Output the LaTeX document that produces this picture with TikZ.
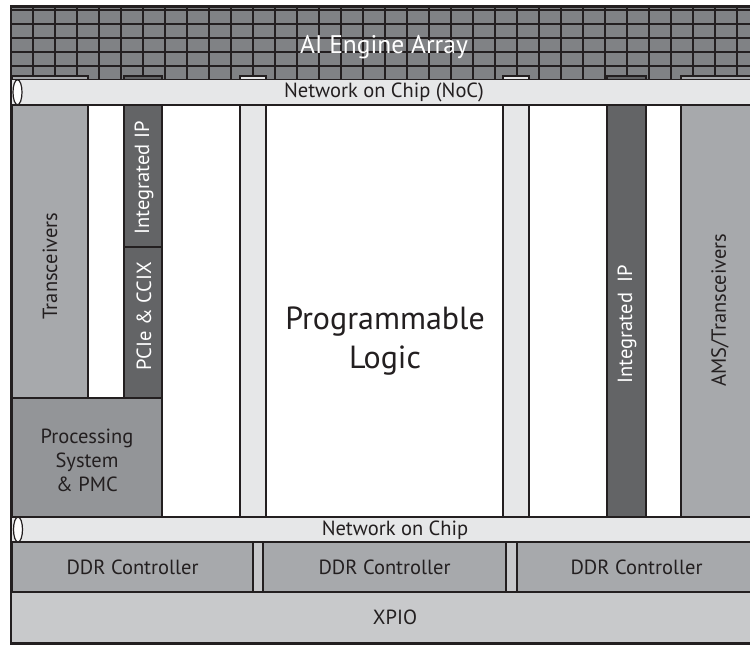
\documentclass[tikz,border=0pt]{standalone}
\usepackage{fontspec}
\setmainfont{PT Sans}
\definecolor{ln}{HTML}{231F20}
\definecolor{aie}{HTML}{808285}
\definecolor{noc}{HTML}{E6E7E8}
\definecolor{gt}{HTML}{A7A9AC}
\definecolor{dk}{HTML}{636466}
\definecolor{psc}{HTML}{939598}
\definecolor{xpio}{HTML}{C8C9CB}
\begin{document}
\begin{tikzpicture}[x=1pt,y=-1pt,
  blk/.style={draw=ln,line width=1.2pt},
  gridl/.style={draw=ln,line width=1.6pt},
  lbl/.style={text=ln,font=\fontsize{20.5}{24}\selectfont,inner sep=0pt},
  wlbl/.style={text=white,font=\fontsize{20.5}{24}\selectfont,inner sep=0pt},
  vlbl/.style={lbl,rotate=90},
  wvlbl/.style={wlbl,rotate=90}]
\useasboundingbox (0,0) rectangle (750,645);
\fill[white] (0,0) rectangle (750,645);
% AI engine array
\fill[aie] (11,7) rectangle (770,80);
\foreach \x in {33,55,...,759} \draw[gridl] (\x,7) -- (\x,80);
\foreach \y in {10,24,38,52,66} \draw[gridl] (11,\y) -- (770,\y);
% columns (tops visible above NoC)
\draw[blk,fill=gt] (12,76) rectangle (88,398);
\draw[blk,fill=white] (88,105) rectangle (124,398);
\draw[blk,fill=dk] (124,76) rectangle (162,247);
\draw[blk,fill=dk] (124,247) rectangle (162,398);
\draw[blk,fill=psc] (12,398) rectangle (162,517);
\draw[blk,fill=white] (162,105) rectangle (240,517);
\draw[blk,fill=noc] (240,76) rectangle (266,517);
\draw[blk,fill=white] (266,105) rectangle (503,517);
\draw[blk,fill=noc] (503,76) rectangle (529,517);
\draw[blk,fill=white] (529,105) rectangle (607,517);
\draw[blk,fill=dk] (607,76) rectangle (646,517);
\draw[blk,fill=white] (646,105) rectangle (681,517);
\draw[blk,fill=gt] (681,76) rectangle (770,517);
% top NoC
\draw[blk,fill=noc] (11,79.5) rectangle (770,105);
\draw[blk,fill=white] (17.5,92.25) ellipse [x radius=4.5,y radius=12.5];
% bottom NoC
\draw[blk,fill=noc] (11,517) rectangle (770,542);
\draw[blk,fill=white] (18,529.5) ellipse [x radius=4.5,y radius=12.5];
% XPIO and DDR
\draw[blk,fill=xpio] (11,542) rectangle (770,643);
\draw[blk,fill=gt] (12,542) rectangle (253,592);
\draw[blk,fill=gt] (263,542) rectangle (506,592);
\draw[blk,fill=gt] (517,542) rectangle (770,592);
\draw[blk] (11,592) -- (770,592);
% outer frame
\draw[draw=ln,line width=2.6pt] (11,6.5) rectangle (770,643.5);
% labels
\node[wlbl,font=\fontsize{25.5}{30}\selectfont] (aielbl) at (384,47) {AI Engine Array};
\node[lbl] (noct) at (384,92.5) {Network on Chip (NoC)};
\node[vlbl] (gtl) at (50,266) {Transceivers};
\node[wvlbl] (iipl) at (144,178) {Integrated IP};
\node[wvlbl] (pcie) at (144,316) {PCIe \& CCIX};
\node[lbl,align=center,font=\fontsize{20.5}{24}\selectfont] (psl) at (87,460) {Processing\\System\\\& PMC};
\node[lbl,align=center,font=\fontsize{32}{39}\selectfont] (pl) at (385,341) {Programmable\\Logic};
\node[wvlbl] (iipr) at (627,324) {Integrated\ \ IP};
\node[vlbl] (ams) at (720,310) {AMS/Transceivers};
\node[lbl] (nocb) at (395,530) {Network on Chip};
\node[lbl] (ddr1) at (132.5,567) {DDR Controller};
\node[lbl] (ddr2) at (384.5,567) {DDR Controller};
\node[lbl] (ddr3) at (636.5,567) {DDR Controller};
\node[lbl] (xpiol) at (395,617) {XPIO};
\end{tikzpicture}
\end{document}
